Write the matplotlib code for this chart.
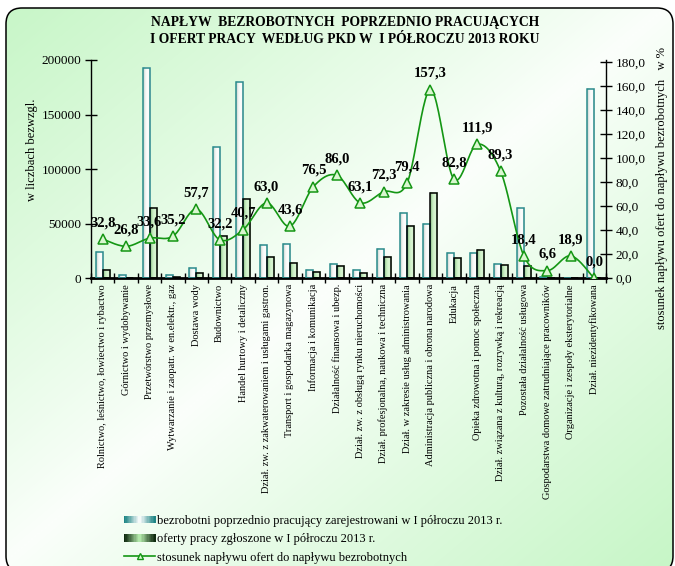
import numpy as np
import matplotlib
matplotlib.use("Agg")
import matplotlib.pyplot as plt
from matplotlib.patches import Rectangle, FancyBboxPatch
from matplotlib.lines import Line2D
from matplotlib.colors import LinearSegmentedColormap
from matplotlib.legend_handler import HandlerBase, HandlerLine2D
from matplotlib.ticker import FuncFormatter, FixedLocator

plt.rcParams['font.family'] = ['Liberation Serif', 'DejaVu Serif']

# ---- data ----
categories = [
    "Rolnictwo, leśnictwo, łowiectwo i rybactwo",
    "Górnictwo i wydobywanie",
    "Przetwórstwo przemysłowe",
    "Wytwarzanie i zaopatr. w en.elektr., gaz",
    "Dostawa wody",
    "Budownictwo",
    "Handel hurtowy i detaliczny",
    "Dział. zw. z zakwaterowaniem i usługami gastron.",
    "Transport i gospodarka magazynowa",
    "Informacja i komunikacja",
    "Działalność finansowa i ubezp.",
    "Dział. zw. z obsługą rynku nieruchomości",
    "Dział. profesjonalna, naukowa i techniczna",
    "Dział. w zakresie usług administrowania",
    "Administracja publiczna i obrona narodowa",
    "Edukacja",
    "Opieka zdrowotna i pomoc społeczna",
    "Dział. związana z kulturą, rozrywką i rekreacją",
    "Pozostała działalność usługowa",
    "Gospodarstwa domowe zatrudniające pracowników",
    "Organizacje i zespoły eksterytorialne",
    "Dział. niezidentyfikowana",
]
bezrobotni = [24500, 3000, 193000, 3000, 9200, 120500, 179800, 31100, 32000,
              7600, 13700, 7900, 27200, 60400, 49700, 23200, 23200, 13700,
              64100, 1600, 400, 173100]
oferty = [8000, 800, 64800, 1050, 5300, 38800, 73200, 19600, 14000,
          5800, 11800, 5000, 19700, 48000, 78200, 19200, 26000, 12200,
          11800, 100, 75, 0]
stosunek = [32.8, 26.8, 33.6, 35.2, 57.7, 32.2, 40.7, 63.0, 43.6, 76.5, 86.0,
            63.1, 72.3, 79.4, 157.3, 82.8, 111.9, 89.3, 18.4, 6.6, 18.9, 0.0]

left_ticks = [0, 50000, 100000, 150000, 200000]
right_ticks = [0, 20, 40, 60, 80, 100, 120, 140, 160, 180]

title = ("NAPŁYW  BEZROBOTNYCH  POPRZEDNIO PRACUJĄCYCH\n"
         "I OFERT PRACY  WEDŁUG PKD W  I PÓŁROCZU 2013 ROKU")
label_b = "bezrobotni poprzednio pracujący zarejestrowani w I półroczu 2013 r."
label_o = "oferty pracy zgłoszone w I półroczu 2013 r."
label_s = "stosunek napływu ofert do napływu bezrobotnych"

# ---- styles ----
W, H = 675, 566
fig = plt.figure(figsize=(W / 100, H / 100), dpi=100)

green_line = '#149614'
cmap_b = LinearSegmentedColormap.from_list('b', ['#c2cdc8', '#f4f7f5', '#ffffff', '#dde3e0'])
cmap_o = LinearSegmentedColormap.from_list('o', ['#7fb27a', '#c6ecbf', '#dcf7d6', '#a8d6a2'])
cmap_bl = LinearSegmentedColormap.from_list('bl', ['#1f8585', '#ffffff', '#1f8585'])
cmap_ol = LinearSegmentedColormap.from_list('ol', ['#0f2a0f', '#b8f0b0', '#0f2a0f'])

# background with rounded frame
bg = fig.add_axes([0, 0, 1, 1])
bg.set_zorder(-5)
bg.set_xlim(0, W)
bg.set_ylim(0, H)
bg.axis('off')
gx, gy = np.meshgrid(np.linspace(0, 1, 200), np.linspace(1, 0, 200))
t = np.abs((gx + (1 - gy)) / 2 - 0.5) * 2
t = np.clip(t, 0, 1) ** 0.9
green = np.array([0.78, 0.965, 0.78])
white = np.array([0.985, 1.0, 0.985])
img = white[None, None, :] * (1 - t[..., None]) + green[None, None, :] * t[..., None]
frame = FancyBboxPatch((6, -6), 667, 564, boxstyle='round,pad=0,rounding_size=16',
                       facecolor='none', edgecolor='black', linewidth=1.1, zorder=3)
bg.add_patch(frame)
im = bg.imshow(img, extent=(0, W, 0, H), aspect='auto', interpolation='bilinear', zorder=1)
im.set_clip_path(frame)

# main axes
ax = fig.add_axes([91 / W, 1 - 278.5 / H, (606 - 91) / W, (278.5 - 60) / H])
ax.patch.set_alpha(0)
x = np.arange(len(categories))
bw = 0.3
bars_b = ax.bar(x - bw / 2, bezrobotni, width=bw, facecolor='none',
                edgecolor='#2a8c8c', linewidth=1.1, zorder=3)
bars_o = ax.bar(x + bw / 2, oferty, width=bw, facecolor='none',
                edgecolor='black', linewidth=1.1, zorder=3)
grad = np.linspace(0, 1, 64).reshape(1, -1)
for bars, cm in ((bars_b, cmap_b), (bars_o, cmap_o)):
    for p in bars:
        h = p.get_height()
        if h <= 0:
            continue
        x0 = p.get_x()
        ax.imshow(grad, cmap=cm, extent=(x0, x0 + p.get_width(), 0, h),
                  aspect='auto', origin='lower', interpolation='bilinear', zorder=2)

ax.set_xlim(-0.5, len(categories) - 0.5)
ax.set_ylim(0, 200000)
ax.set_yticks(left_ticks)
ax.yaxis.set_major_formatter(FuncFormatter(lambda v, p: f"{int(v)}"))
ax.tick_params(axis='y', direction='inout', length=8, width=1, labelsize=9.5, pad=3)
ax.set_xticks(x)
ax.set_xticklabels(categories, rotation=90, fontsize=7.5)
ax.tick_params(axis='x', length=0, pad=4)
ax.xaxis.set_minor_locator(FixedLocator(np.arange(-0.5, len(categories), 1.0)))
ax.tick_params(axis='x', which='minor', direction='inout', length=7, width=1)
for s in ('top', 'right'):
    ax.spines[s].set_visible(False)
ax.spines['bottom'].set_linewidth(2)
ax.spines['left'].set_linewidth(1)

# ratio line on the right axis
ax2 = ax.twinx()
ax2.set_ylim(0, 182)
ax2.set_yticks(right_ticks)
ax2.yaxis.set_major_formatter(FuncFormatter(lambda v, p: f"{v:.1f}".replace('.', ',')))
ax2.tick_params(axis='y', direction='inout', length=8, width=1, labelsize=9.5, pad=3)
for s in ('top', 'left', 'bottom'):
    ax2.spines[s].set_visible(False)
ax2.spines['right'].set_linewidth(1)


def smooth_curve(xs, ys, n=24):
    xs = np.asarray(xs, float)
    ys = np.asarray(ys, float)
    P = np.column_stack([xs, ys])
    ext = np.vstack([P[0], P, P[-1]])
    out = []
    tt = np.linspace(0, 1, n)[:, None]
    for i in range(len(P) - 1):
        p0, p3 = ext[i + 1], ext[i + 2]
        c1 = p0 + (ext[i + 2] - ext[i]) / 6
        c2 = p3 - (ext[i + 3] - ext[i + 1]) / 6
        seg = ((1 - tt) ** 3) * p0 + 3 * ((1 - tt) ** 2) * tt * c1 + 3 * (1 - tt) * tt ** 2 * c2 + tt ** 3 * p3
        out.append(seg if i == 0 else seg[1:])
    c = np.vstack(out)
    return c[:, 0], c[:, 1]


sx, sy = smooth_curve(x, stosunek)
ax2.plot(sx, sy, color=green_line, linewidth=1.2, zorder=4)
ax2.plot(x, stosunek, linestyle='none', marker='^', markersize=7,
         markerfacecolor='#d9f7d0', markeredgecolor=green_line, markeredgewidth=1.1, zorder=5)
for xi, v in zip(x, stosunek):
    ax2.annotate(f"{v:.1f}".replace('.', ','), (xi, v), xytext=(0, 7),
                 textcoords='offset points', ha='center', va='bottom',
                 fontsize=10.5, fontweight='bold', zorder=6)

# titles and axis labels
fig.text(345 / W, 1 - 31 / H, title, ha='center', va='center', fontsize=9.8,
         fontweight='bold', linespacing=1.45)
fig.text(32 / W, 1 - 150 / H, "w liczbach bezwzgl.", rotation=90,
         ha='center', va='center', fontsize=9)
fig.text(662 / W, 1 - 188 / H, "stosunek napływu ofert do napływu bezrobotnych   w %",
         rotation=90, ha='center', va='center', fontsize=9)


# legend with gradient swatches
class GradientHandler(HandlerBase):
    def __init__(self, cmap):
        super().__init__()
        self.cmap = cmap

    def create_artists(self, legend, orig_handle, xdescent, ydescent,
                       width, height, fontsize, trans):
        n = 24
        arts = []
        for i in range(n):
            r = Rectangle((-xdescent + width * i / n, -ydescent), width / n + 0.3, height,
                          facecolor=self.cmap(i / (n - 1)), edgecolor='none', transform=trans)
            arts.append(r)
        return arts


hb = Rectangle((0, 0), 1, 1)
ho = Rectangle((0, 0), 1, 1)
hl = Line2D([], [], color=green_line, linewidth=1.2, marker='^', markersize=5,
            markerfacecolor='#d9f7d0', markeredgecolor=green_line)
fig.legend([hb, ho, hl], [label_b, label_o, label_s], loc='upper left',
           bbox_to_anchor=(124 / W, 1 - 515 / H), frameon=False, fontsize=9,
           handlelength=2.5, handleheight=0.55, labelspacing=0.5, handletextpad=0.15,
           borderaxespad=0, borderpad=0,
           handler_map={hb: GradientHandler(cmap_bl),
                        ho: GradientHandler(cmap_ol),
                        hl: HandlerLine2D(numpoints=1)})

fig.savefig('out.png', dpi=100)
